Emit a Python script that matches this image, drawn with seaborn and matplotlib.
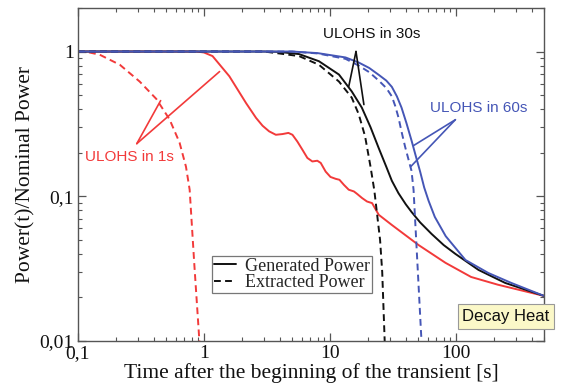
import numpy as np
import pandas as pd
import seaborn as sns
import matplotlib
matplotlib.use("Agg")
import matplotlib.pyplot as plt
from matplotlib.ticker import LogLocator, NullFormatter, FixedLocator, FixedFormatter
from matplotlib.lines import Line2D

# ULOHS in 1s
red_gen_t = [0.1, 0.87, 1.0, 1.17, 1.59, 2.16, 2.29, 2.59, 2.92, 3.29, 3.72, 4.20, 4.68, 5.04,
             5.51, 6.04, 6.62, 7.25, 7.94, 8.45, 9.25, 10.1, 11.1, 11.9, 12.9, 14.1, 15.5,
             16.4, 18.0, 19.7, 21.6, 24.4, 30.9, 50.6, 82.6, 132, 215, 500]
red_gen_p = [1.0, 1.0, 0.985, 0.93, 0.675, 0.44, 0.408, 0.348, 0.307, 0.281, 0.266, 0.269, 0.274, 0.266,
             0.239, 0.210, 0.184, 0.174, 0.176, 0.170, 0.148, 0.136, 0.132, 0.130, 0.120, 0.111, 0.108,
             0.104, 0.0972, 0.092, 0.0897, 0.0745, 0.0635, 0.046, 0.0347, 0.0277, 0.0245, 0.0205]
red_ext_t = [0.1, 0.12, 0.149, 0.215, 0.309, 0.419, 0.533, 0.64, 0.72, 0.77, 0.84, 0.92]
red_ext_p = [1.0, 0.99, 0.95, 0.81, 0.62, 0.47, 0.34, 0.235, 0.16, 0.111, 0.033, 0.01]

# ULOHS in 30s
blk_gen_t = [0.1, 3.0, 3.95, 5.69, 8.18, 11.8, 14.9, 17.9, 21.0, 24.4, 28.0, 31.0, 35.0,
             40.0, 44.4, 52.0, 64.0, 80.0, 99.0, 151, 246, 500]
blk_gen_p = [1.0, 1.0, 0.995, 0.96, 0.857, 0.693, 0.53, 0.41, 0.30, 0.215, 0.16, 0.128, 0.105,
             0.088, 0.078, 0.066, 0.055, 0.046, 0.040, 0.031, 0.0252, 0.0205]
blk_ext_t = [0.1, 3.0, 3.95, 5.69, 8.18, 11.8, 14.9, 16.9, 19.0, 21.0, 22.5, 23.6, 25.0, 26.0, 27.2]
blk_ext_p = [1.0, 1.0, 0.97, 0.93, 0.81, 0.62, 0.48, 0.37, 0.26, 0.16, 0.11, 0.077, 0.05, 0.03, 0.01]

# ULOHS in 60s
blu_gen_t = [0.1, 5.0, 8.0, 13.3, 16.9, 20.5, 24.4, 28.0, 31.0, 34.0, 37.0, 40.5, 44.6, 48.0,
             52.0, 56.0, 60.7, 68.0, 83.0, 119, 181, 275, 500]
blu_gen_p = [1.0, 1.0, 0.975, 0.91, 0.84, 0.77, 0.69, 0.63, 0.57, 0.49, 0.41, 0.32, 0.24, 0.19,
             0.148, 0.115, 0.093, 0.072, 0.053, 0.0363, 0.0295, 0.0252, 0.0205]
blu_ext_t = [0.1, 5.0, 8.0, 13.3, 16.9, 20.5, 24.4, 28.0, 31.0, 33.0, 35.0, 37.0, 39.5, 42.0,
             44.4, 46.1, 53.3]
blu_ext_p = [1.0, 1.0, 0.97, 0.89, 0.80, 0.72, 0.63, 0.56, 0.49, 0.42, 0.35, 0.28, 0.22, 0.18,
             0.15, 0.111, 0.01]

x_ticks = [0.1, 1, 10, 100]
x_labels = ["0,1", "1", "10", "100"]
y_ticks = [0.01, 0.1, 1]
y_labels = ["0,01", "0,1", "1"]

RED, BLACK, BLUE = "#f23a3a", "#111111", "#4556b6"

frames = []
for scen, kind, t, p in [
    ("1s", "Generated", red_gen_t, red_gen_p), ("1s", "Extracted", red_ext_t, red_ext_p),
    ("30s", "Generated", blk_gen_t, blk_gen_p), ("30s", "Extracted", blk_ext_t, blk_ext_p),
    ("60s", "Generated", blu_gen_t, blu_gen_p), ("60s", "Extracted", blu_ext_t, blu_ext_p),
]:
    frames.append(pd.DataFrame({"t": t, "power": p, "scenario": scen, "kind": kind}))
df = pd.concat(frames, ignore_index=True)

sns.set_theme(style="ticks")
plt.rcParams["font.family"] = ["Liberation Serif", "DejaVu Serif"]

fig = plt.figure(figsize=(5.63, 3.90), dpi=100)
ax = fig.add_axes([0.1385, 0.1256, 0.8277, 0.854])

sns.lineplot(data=df, x="t", y="power", hue="scenario", style="kind",
             palette={"1s": RED, "30s": BLACK, "60s": BLUE},
             dashes={"Generated": "", "Extracted": (3.5, 2.2)},
             estimator=None, sort=True, linewidth=1.4, legend=False, ax=ax)

ax.set_xscale("log")
ax.set_yscale("log")
ax.set_xlim(0.1, 500)
ax.set_ylim(0.01, 2)

ax.xaxis.set_major_locator(FixedLocator(x_ticks))
ax.xaxis.set_major_formatter(FixedFormatter(x_labels))
ax.yaxis.set_major_locator(FixedLocator(y_ticks))
ax.yaxis.set_major_formatter(FixedFormatter(y_labels))
for axis in (ax.xaxis, ax.yaxis):
    axis.set_minor_locator(LogLocator(base=10, subs=np.arange(2, 10), numticks=20))
    axis.set_minor_formatter(NullFormatter())

ax.tick_params(which="both", direction="in", top=True, right=True, color="#555555",
               labelsize=14, labelcolor="#111111")
ax.tick_params(which="major", length=6, width=0.9, pad=3)
ax.tick_params(which="minor", length=3.2, width=0.8)
for sp in ax.spines.values():
    sp.set_color("#555555")
    sp.set_linewidth(1.0)

ax.set_xlabel("Time after the beginning of the transient [s]", fontsize=15.5, labelpad=1,
              color="#111111")
ax.set_ylabel("Power(t)/Nominal Power", fontsize=15.5, labelpad=3, color="#111111")

# scenario callouts
sans = ["Liberation Sans", "DejaVu Sans"]
ax.text(0.258, 0.188, "ULOHS in 1s", color=RED, fontsize=11, family=sans,
        ha="center", va="center")
for end in [(0.453, 0.458), (1.33, 0.727)]:
    ax.plot([0.293, end[0]], [0.231, end[1]], color=RED, lw=1.2)

ax.text(21.5, 1.33, "ULOHS in 30s", color=BLACK, fontsize=11, family=sans,
        ha="center", va="center")
for end in [(14.1, 0.573), (18.6, 0.43)]:
    ax.plot([16.1, end[0]], [1.0, end[1]], color=BLACK, lw=1.2)

ax.text(153, 0.41, "ULOHS in 60s", color=BLUE, fontsize=11, family=sans,
        ha="center", va="center")
for end in [(46.1, 0.224), (43.7, 0.16)]:
    ax.plot([99, end[0]], [0.338, end[1]], color=BLUE, lw=1.2)

ax.text(250, 0.0148, "Decay Heat", color="#111111", fontsize=12, family=sans,
        ha="center", va="center", clip_on=False, zorder=5,
        bbox=dict(boxstyle="square,pad=0.28", fc="#fbf8c8", ec="#999999", lw=0.8))

handles = [Line2D([], [], color=BLACK, lw=1.4, label="Generated Power"),
           Line2D([], [], color=BLACK, lw=1.4, ls=(0, (3.5, 2.2)), label="Extracted Power")]
leg = ax.legend(handles=handles, loc="lower left", bbox_to_anchor=(0.2876, 0.144),
                fontsize=13, frameon=True, fancybox=False, borderaxespad=0,
                handlelength=1.2, handletextpad=0.5, borderpad=0.12, labelspacing=-0.05)
leg.get_frame().set_edgecolor("#555555")
leg.get_frame().set_linewidth(0.9)

fig.savefig("out.png", dpi=100)
